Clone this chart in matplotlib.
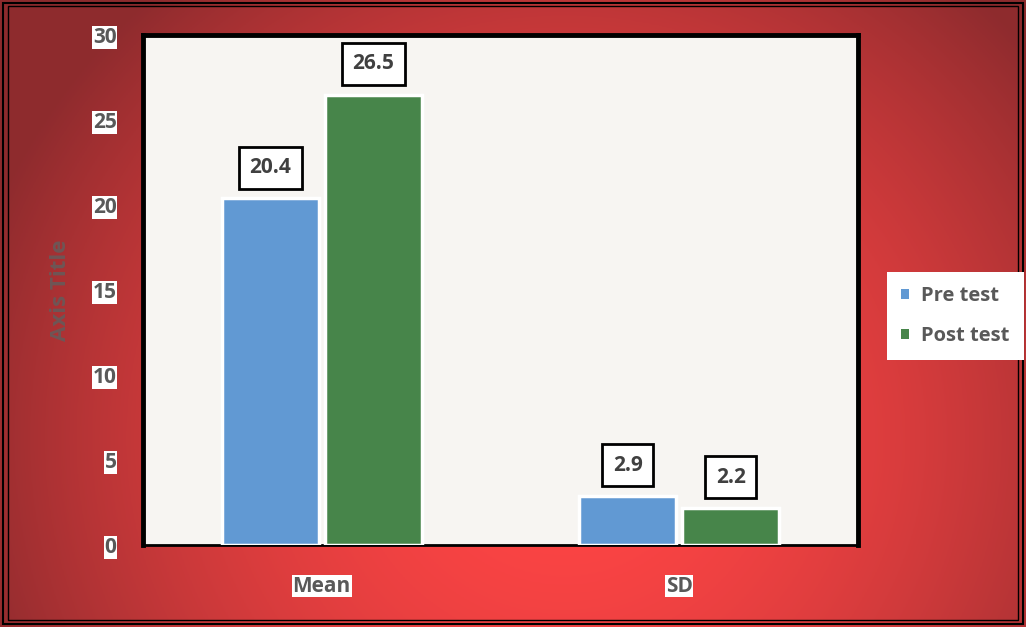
import matplotlib
matplotlib.use("Agg")
import matplotlib.pyplot as plt
import numpy as np
from matplotlib.patches import Rectangle

plt.rcParams['font.family'] = ['Open Sans', 'DejaVu Sans']

categories = ['Mean', 'SD']
series = ['Pre test', 'Post test']
pre_test = [20.4, 2.9]
post_test = [26.5, 2.2]
yticks = [0, 5, 10, 15, 20, 25, 30]
colors = ['#6199D3', '#47854A']
label_gray = '#595959'

fig = plt.figure(figsize=(10.26, 6.27), dpi=100)

# red radial background, darker to the edges
bg = fig.add_axes([0, 0, 1, 1], zorder=-10)
gx, gy = np.meshgrid(np.linspace(0, 1, 400), np.linspace(0, 1, 250))
d = np.sqrt(((gx - 0.55) / 0.6) ** 2 + ((gy - 0.3) / 0.95) ** 2)
d = np.clip(d, 0, 1)
c0 = np.array([1.0, 0.27, 0.27])
c1 = np.array([0.56, 0.17, 0.18])
w = d[..., None] ** 1.8
img = c0[None, None, :] * (1 - w) + c1[None, None, :] * w
bg.imshow(img, extent=[0, 1, 0, 1], aspect='auto', origin='lower')
bg.set_xlim(0, 1)
bg.set_ylim(0, 1)
bg.axis('off')
# thin double frame
bg.add_patch(Rectangle((0.003, 0.005), 0.994, 0.99, fill=False, ec='black', lw=1.5))
bg.add_patch(Rectangle((0.008, 0.011), 0.984, 0.979, fill=False, ec='black', lw=1.0))

W, H = 1026, 627
left, right, top, bottom = 143, 858, 35, 545
ax = fig.add_axes([left / W, 1 - bottom / H, (right - left) / W, (bottom - top) / H])
ax.set_facecolor('#F7F5F2')

x = np.arange(len(categories))
bw = 0.272
gap = 0.008
bars_pre = ax.bar(x - bw / 2 - gap, pre_test, bw, color=colors[0], edgecolor='white', linewidth=2.5, label=series[0], zorder=3)
bars_post = ax.bar(x + bw / 2 + gap, post_test, bw, color=colors[1], edgecolor='white', linewidth=2.5, label=series[1], zorder=3)

ax.set_xlim(-0.5, 1.5)
ax.set_ylim(0, 30)
ax.set_yticks(yticks)
ax.set_xticks(x)
ax.set_xticklabels(categories)
ax.tick_params(axis='both', length=0, labelsize=15, labelcolor=label_gray)
ax.tick_params(axis='y', pad=19)
ax.tick_params(axis='x', pad=22)
for lbl in ax.get_yticklabels() + ax.get_xticklabels():
    lbl.set_fontweight('bold')
    lbl.set_bbox(dict(facecolor='white', edgecolor='none', pad=0.5))

for side in ['left', 'top', 'right']:
    ax.spines[side].set_linewidth(3.5)
    ax.spines[side].set_color('black')
ax.spines['bottom'].set_linewidth(2)
ax.spines['bottom'].set_color('black')

for bars in (bars_pre, bars_post):
    for b in bars:
        ax.annotate(f'{b.get_height():.1f}', (b.get_x() + b.get_width() / 2, b.get_height()),
                    xytext=(0, 22), textcoords='offset points', ha='center', va='center',
                    fontsize=15, fontweight='bold', color='#404040', zorder=5,
                    bbox=dict(facecolor='white', edgecolor='black', lw=2, boxstyle='square,pad=0.5'))

fig.text(60 / W, 1 - 290 / H, 'Axis Title', rotation=90, ha='center', va='center',
         fontsize=16, fontweight='bold', color='#6E5656')

leg = fig.legend(handles=[bars_pre, bars_post], labels=series, loc='center left',
                 bbox_to_anchor=(887 / W, 1 - 316 / H), frameon=True, fancybox=False,
                 handlelength=0.4, handleheight=0.4, handletextpad=0.6, labelspacing=1.0,
                 borderpad=0.7, borderaxespad=0, prop={'size': 14.5, 'weight': 'bold'})
leg.get_frame().set_edgecolor('none')
leg.get_frame().set_facecolor('white')
leg.get_frame().set_alpha(1)
for t in leg.get_texts():
    t.set_color(label_gray)
for h in leg.legend_handles:
    h.set_edgecolor('none')

fig.savefig('out.png', dpi=100)
